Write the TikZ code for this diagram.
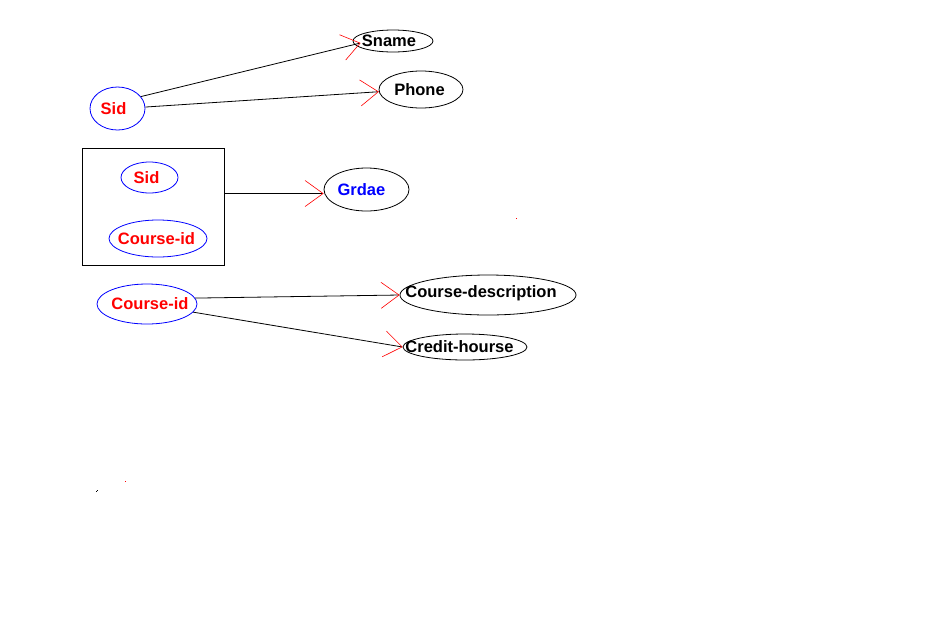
\documentclass[tikz,border=0pt]{standalone}
\usepackage{fontspec}
\setmainfont{Liberation Sans}
\usetikzlibrary{shapes.geometric,arrows.meta}
\begin{document}
\begin{tikzpicture}[x=1pt,y=-1pt,
  txt/.style={font=\fontsize{16.5}{18}\selectfont\bfseries,inner sep=0pt},
  attr/.style={ellipse,draw=black,line width=0.8pt,inner sep=0pt},
  keyattr/.style={attr,draw=blue},
  conn/.style={draw=black,line width=0.8pt,-{Straight Barb[color=red,length=18pt,width=26pt,line width=0.6pt]}}]
\useasboundingbox (0,0) rectangle (941,638);
\fill[white] (0,0) rectangle (941,638);
% top group
\node[keyattr,minimum width=55pt,minimum height=43pt,label={[txt,text=red,xshift=-4pt]center:Sid}] (sid) at (117.5,108.5) {};
\node[attr,minimum width=80pt,minimum height=22pt,label={[txt,xshift=-4pt]center:Sname}] (sname) at (393,41) {};
\node[attr,minimum width=84pt,minimum height=37pt,label={[txt,xshift=-1.5pt]center:Phone}] (phone) at (421,89.5) {};
\coordinate (snin) at ([xshift=8pt,yshift=-2pt]sname.west);
\draw[conn] (sid.27) -- (snin);
\draw[conn] (sid.3) -- (phone.183);
% box group
\node[draw=black,line width=0.8pt,minimum width=142pt,minimum height=117pt,inner sep=0pt] (box) at (153,206.5) {};
\node[keyattr,minimum width=57pt,minimum height=31pt,label={[txt,text=red,xshift=-3pt]center:Sid}] (sid2) at (149.5,177.5) {};
\node[keyattr,minimum width=98pt,minimum height=37pt,label={[txt,text=red,xshift=-1.5pt]center:Course-id}] (cid2) at (158,238.5) {};
\node[attr,minimum width=85pt,minimum height=43pt,label={[txt,text=blue,xshift=-5pt]center:Grdae}] (grdae) at (366.5,189.5) {};
\coordinate (gin) at ([yshift=-4pt]grdae.west);
\draw[conn] (box.east |- gin) -- (gin);
% bottom group
\node[keyattr,minimum width=100pt,minimum height=40pt,label={[txt,text=red,xshift=3pt]center:Course-id}] (cid) at (147,304) {};
\node[attr,minimum width=176pt,minimum height=40pt,label={[txt,xshift=-7pt,yshift=1.5pt]center:Course-description}] (cdesc) at (488,295) {};
\node[attr,minimum width=124pt,minimum height=26pt,label={[txt,xshift=-5.5pt]center:Credit-hourse}] (credit) at (465,347) {};
\draw[conn] (cid.7) -- (cdesc.west);
\draw[conn] (cid.-10) -- (credit.west);
% stray dots
\fill[red] (516,217.5) rectangle +(1.2,1.2);
\fill[red] (125,481) rectangle +(1.2,1.2);
\fill[black] (96,491) rectangle +(1.2,1.2);
\fill[black] (97.2,489.8) rectangle +(1.2,1.2);
\end{tikzpicture}
\end{document}
